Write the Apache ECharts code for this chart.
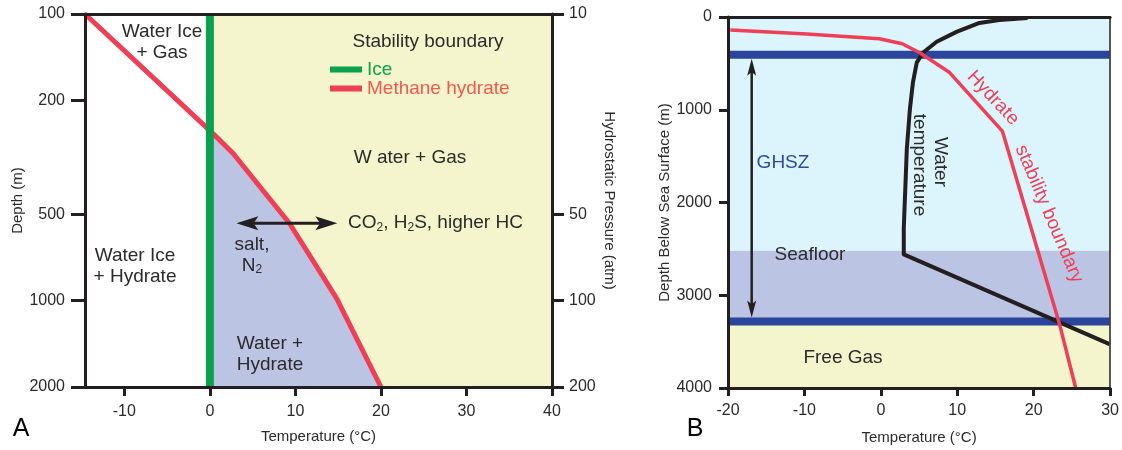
<!DOCTYPE html>
<html>
<head>
<meta charset="utf-8">
<script src="https://cdn.jsdelivr.net/npm/echarts@6/dist/echarts.min.js"></script>
<style>
  html, body { margin: 0; padding: 0; background: #fff; }
  #chart { width: 1122px; height: 450px; }
</style>
</head>
<body>
<div id="chart"></div>
<script>
// ---------- Panel A: phase stability vs depth (log depth scale) ----------
const tempRangeA = [-14.6, 40];
const tempTicksA = [-10, 0, 10, 20, 30, 40];
const depthRangeA = [100, 2000];
const depthTicksA = [100, 200, 500, 1000, 2000];
const pressureRangeA = [10, 200];
const pressureTicksA = [10, 50, 100, 200];

const iceTemp = [0, 0];
const iceDepth = [100, 2000];
const hydrateTempA = [-14.6, 0, 2.7, 9.3, 14.8, 20];
const hydrateDepthA = [100, 255, 306, 537, 980, 2000];

// double arrow: solutes shift the boundary left / right
const shiftArrowDepth = 537;
const shiftArrowTemp = [3.1, 14.9];

// ---------- Panel B: ocean water column ----------
const tempRangeB = [-20, 30];
const depthRangeB = [0, 4000];
const hydrateTempB = [-19.7, -9.7, -0.2, 2.8, 5.1, 9.0, 15.9, 23.4, 25.5];
const hydrateDepthB = [139, 182, 235, 289, 385, 599, 1230, 3316, 4000];
const waterTempB = [19.2, 15.5, 12.9, 9.9, 7.3, 5.5, 4.7, 4.2, 3.8, 3.4, 3.0, 3.0, 30];
const waterDepthB = [11, 32, 64, 160, 267, 385, 492, 706, 995, 1422, 2278, 2560, 3529];
const seafloorDepth = 2520;
const ghszTopDepth = 406;
const ghszBaseDepth = 3283;
const ghszArrowTemp = -16.9;

// ---------- styling ----------
const FONT = '"Liberation Sans", Arial, sans-serif';
const INK = '#2b2b2b';
const AXIS = '#231f20';
const RED = '#ee3f57';
const GREEN = '#0aa24f';
const YELLOW = '#f4f4cd';
const LAVENDER = '#bcc4e3';
const CYAN = '#dcf4fc';
const NAVY = '#2a459b';

const pairs = (xs, ys) => xs.map((x, i) => [x, ys[i]]);

function arrowHead(tip, dir, len, half) {
  // swept arrowhead pointing along dir (unit vector) with tip at `tip`
  const nx = -dir[1], ny = dir[0];
  const bx = tip[0] - dir[0] * len, by = tip[1] - dir[1] * len;
  const mx = tip[0] - dir[0] * len * 0.78, my = tip[1] - dir[1] * len * 0.78;
  return {
    type: 'polygon',
    shape: { points: [tip, [bx + nx * half, by + ny * half], [mx, my], [bx - nx * half, by - ny * half]] },
    style: { fill: AXIS }
  };
}

function doubleArrow(p0, p1, len, half, width) {
  const dx = p1[0] - p0[0], dy = p1[1] - p0[1];
  const L = Math.hypot(dx, dy);
  const u = [dx / L, dy / L];
  return {
    type: 'group',
    children: [
      {
        type: 'line',
        shape: { x1: p0[0] + u[0] * len * 0.7, y1: p0[1] + u[1] * len * 0.7, x2: p1[0] - u[0] * len * 0.7, y2: p1[1] - u[1] * len * 0.7 },
        style: { stroke: AXIS, lineWidth: width }
      },
      arrowHead(p0, [-u[0], -u[1]], len, half),
      arrowHead(p1, u, len, half)
    ]
  };
}

function label(x, y, text, style, el) {
  return Object.assign({
    type: 'text', x: x, y: y, silent: true, z: 100,
    style: Object.assign({
      text: text, fill: INK, fontSize: 19, fontFamily: FONT,
      align: 'center', verticalAlign: 'middle', lineHeight: 21,
      rich: { s: { fontSize: 12, fontFamily: FONT, fill: INK, verticalAlign: 'bottom', lineHeight: 14 } }
    }, style || {})
  }, el || {});
}

function axisBase(gridIndex, extra) {
  return Object.assign({
    gridIndex: gridIndex, z: 10,
    axisLine: { show: true, onZero: false, lineStyle: { color: AXIS, width: 3 } },
    splitLine: { show: false },
    nameTextStyle: { fontSize: 15, color: INK, fontFamily: FONT }
  }, extra);
}

const plain = (v) => String(v);
const tickLabel = (margin) => ({ fontSize: 16, color: INK, fontFamily: FONT, margin: margin, formatter: plain });

const chart = echarts.init(document.getElementById('chart'), null, { renderer: 'canvas' });

const option = {
  animation: false,
  textStyle: { fontFamily: FONT },
  grid: [
    { left: 85, top: 14, width: 467, height: 373 },
    { left: 728, top: 17, width: 383, height: 374 }
  ],
  legend: {
    left: 330, top: 60, orient: 'vertical', padding: 0, itemGap: 0,
    itemWidth: 32, itemHeight: 6, icon: 'rect', selectedMode: false,
    textStyle: { fontSize: 19, fontFamily: FONT, lineHeight: 19 },
    data: [
      { name: 'Ice', textStyle: { color: GREEN } },
      { name: 'Methane hydrate', textStyle: { color: '#ef5a50' } }
    ]
  },
  xAxis: [
    axisBase(0, {
      type: 'value', min: tempRangeA[0], max: tempRangeA[1], position: 'bottom',
      axisTick: { show: true, length: 9, lineStyle: { color: AXIS, width: 3 }, customValues: tempTicksA },
      axisLabel: Object.assign(tickLabel(17), { customValues: tempTicksA }),
      name: 'Temperature (°C)', nameLocation: 'middle', nameGap: 42
    }),
    axisBase(0, {
      type: 'value', min: tempRangeA[0], max: tempRangeA[1], position: 'top',
      axisTick: { show: false }, axisLabel: { show: false }
    }),
    axisBase(1, {
      type: 'value', min: tempRangeB[0], max: tempRangeB[1], interval: 10, position: 'bottom',
      axisTick: { show: true, length: 8, lineStyle: { color: AXIS, width: 3 } },
      axisLabel: tickLabel(15),
      name: 'Temperature (°C)', nameLocation: 'middle', nameGap: 42
    }),
    axisBase(1, {
      type: 'value', min: tempRangeB[0], max: tempRangeB[1], position: 'top',
      axisTick: { show: false }, axisLabel: { show: false }
    })
  ],
  yAxis: [
    axisBase(0, {
      type: 'log', logBase: 10, min: depthRangeA[0], max: depthRangeA[1], inverse: true, position: 'left',
      axisTick: { show: true, length: 14, lineStyle: { color: AXIS, width: 3 }, customValues: depthTicksA },
      axisLabel: Object.assign(tickLabel(20), { customValues: depthTicksA }),
      name: 'Depth (m)', nameLocation: 'middle', nameGap: 51
    }),
    axisBase(0, {
      type: 'log', logBase: 10, min: pressureRangeA[0], max: pressureRangeA[1], inverse: true, position: 'right',
      axisTick: { show: true, length: 12, lineStyle: { color: AXIS, width: 3 }, customValues: pressureTicksA },
      axisLabel: Object.assign(tickLabel(17), { customValues: pressureTicksA }),
      name: 'Hydrostatic Pressure (atm)', nameLocation: 'middle', nameGap: 50, nameRotate: -90
    }),
    axisBase(1, {
      type: 'value', min: depthRangeB[0], max: depthRangeB[1], interval: 1000, inverse: true, position: 'left',
      axisTick: { show: true, length: 9, lineStyle: { color: AXIS, width: 3 } },
      axisLabel: tickLabel(16),
      name: 'Depth Below Sea Surface (m)', nameLocation: 'middle', nameGap: 53
    }),
    axisBase(1, {
      type: 'value', min: depthRangeB[0], max: depthRangeB[1], inverse: true, position: 'right',
      axisLine: { show: true, onZero: false, lineStyle: { color: '#444', width: 1.8 } },
      axisTick: { show: false }, axisLabel: { show: false }
    })
  ],
  series: [
    // Panel A phase fields
    {
      type: 'custom', xAxisIndex: 0, yAxisIndex: 0, z: 1, silent: true,
      data: [[0, 1000]],
      renderItem: function (params, api) {
        const boundary = pairs(hydrateTempA, hydrateDepthA).filter(p => p[0] >= 0);
        const gasField = [[0, depthRangeA[0]], [tempRangeA[1], depthRangeA[0]], [tempRangeA[1], depthRangeA[1]]]
          .concat(boundary.slice().reverse());
        const hydrateField = boundary.concat([[0, depthRangeA[1]]]);
        return {
          type: 'group',
          children: [
            { type: 'polygon', shape: { points: gasField.map(p => api.coord(p)) }, style: { fill: YELLOW } },
            { type: 'polygon', shape: { points: hydrateField.map(p => api.coord(p)) }, style: { fill: LAVENDER } }
          ]
        };
      }
    },
    {
      name: 'Methane hydrate', type: 'line', xAxisIndex: 0, yAxisIndex: 0, z: 3,
      data: pairs(hydrateTempA, hydrateDepthA), showSymbol: false, silent: true,
      itemStyle: { color: RED }, lineStyle: { color: RED, width: 5, join: 'round' }
    },
    {
      name: 'Ice', type: 'line', xAxisIndex: 0, yAxisIndex: 0, z: 4,
      data: pairs(iceTemp, iceDepth), showSymbol: false, silent: true,
      itemStyle: { color: GREEN }, lineStyle: { color: GREEN, width: 8 }
    },
    {
      type: 'custom', xAxisIndex: 0, yAxisIndex: 0, z: 5, silent: true,
      data: [[0, 1000]],
      renderItem: function (params, api) {
        const p0 = api.coord([shiftArrowTemp[0], shiftArrowDepth]);
        const p1 = api.coord([shiftArrowTemp[1], shiftArrowDepth]);
        return doubleArrow(p0, p1, 22, 7, 3);
      }
    },
    // Panel B water column zones
    {
      type: 'custom', xAxisIndex: 2, yAxisIndex: 2, z: 1, silent: true,
      data: [[0, 1000]],
      renderItem: function (params, api) {
        const band = (d0, d1, fill) => {
          const a = api.coord([tempRangeB[0], d0]);
          const b = api.coord([tempRangeB[1], d1]);
          return { type: 'rect', shape: { x: a[0], y: a[1], width: b[0] - a[0], height: b[1] - a[1] }, style: { fill: fill } };
        };
        return {
          type: 'group',
          children: [
            band(depthRangeB[0], seafloorDepth, CYAN),
            band(seafloorDepth, ghszBaseDepth, LAVENDER),
            band(ghszBaseDepth, depthRangeB[1], YELLOW)
          ]
        };
      }
    },
    {
      type: 'line', xAxisIndex: 2, yAxisIndex: 2, z: 2, silent: true, showSymbol: false,
      data: [[tempRangeB[0], ghszTopDepth], [tempRangeB[1], ghszTopDepth]],
      lineStyle: { color: NAVY, width: 8, cap: 'butt' }
    },
    {
      type: 'line', xAxisIndex: 2, yAxisIndex: 2, z: 2, silent: true, showSymbol: false,
      data: [[tempRangeB[0], ghszBaseDepth], [tempRangeB[1], ghszBaseDepth]],
      lineStyle: { color: NAVY, width: 8, cap: 'butt' }
    },
    {
      type: 'custom', xAxisIndex: 2, yAxisIndex: 2, z: 2, silent: true,
      data: [[0, 1000]],
      renderItem: function (params, api) {
        const p0 = api.coord([ghszArrowTemp, ghszTopDepth]);
        const p1 = api.coord([ghszArrowTemp, ghszBaseDepth]);
        p0[1] += 4; p1[1] -= 4;
        return doubleArrow(p0, p1, 17, 4.5, 2.5);
      }
    },
    {
      name: 'Water temperature', type: 'line', xAxisIndex: 2, yAxisIndex: 2, z: 3,
      data: pairs(waterTempB, waterDepthB), showSymbol: false, silent: true,
      lineStyle: { color: AXIS, width: 4, join: 'round' }
    },
    {
      name: 'Hydrate stability boundary', type: 'line', xAxisIndex: 2, yAxisIndex: 2, z: 4,
      data: pairs(hydrateTempB, hydrateDepthB), showSymbol: false, silent: true,
      lineStyle: { color: RED, width: 3.5, join: 'round' }
    }
  ],
  graphic: [
    // Panel A annotations
    label(162, 42, 'Water Ice\n+ Gas'),
    label(428, 42, 'Stability boundary'),
    label(410, 158, 'W ater + Gas'),
    label(348, 223, 'CO{s|2}, H{s|2}S, higher HC', { align: 'left' }),
    label(252, 255, 'salt,\nN{s|2}'),
    label(135, 266, 'Water Ice\n+ Hydrate'),
    label(270, 354, 'Water +\nHydrate'),
    label(21, 429, 'A', { fontSize: 25, fill: '#000' }),
    // Panel B annotations
    label(783, 163, 'GHSZ', { fill: '#2e4a9e' }),
    label(810, 255, 'Seafloor'),
    label(843, 358, 'Free Gas'),
    label(940, 162, 'Water', null, { rotation: -Math.PI / 2 }),
    label(919, 165, 'temperature', null, { rotation: -Math.PI / 2 }),
    label(993, 98, 'Hydrate', { fill: RED }, { rotation: -47 * Math.PI / 180 }),
    label(1049, 214, 'stability boundary', { fill: RED }, { rotation: -67 * Math.PI / 180 }),
    label(695, 429, 'B', { fontSize: 25, fill: '#000' })
  ]
};

chart.setOption(option);
</script>
</body>
</html>
